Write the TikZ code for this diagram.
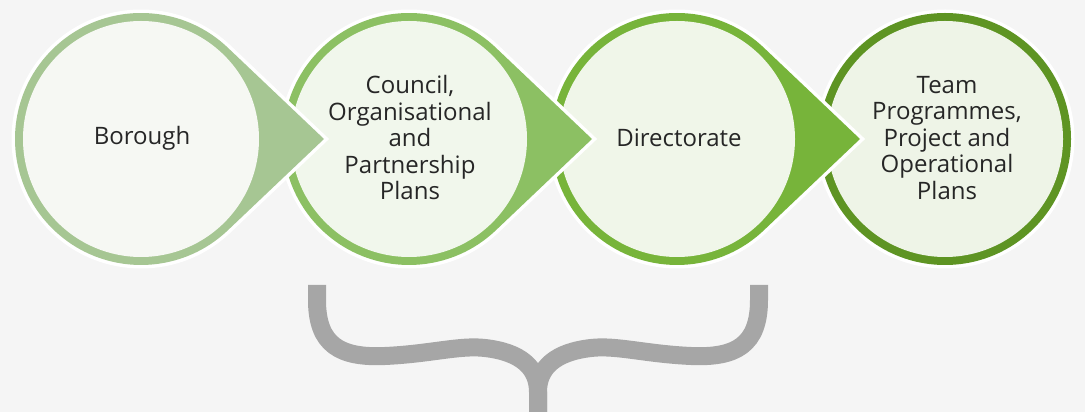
\documentclass[tikz,border=0pt]{standalone}
\usepackage{fontspec}
\setmainfont{Open Sans}
\definecolor{bgcol}{HTML}{F5F5F5}
\definecolor{ringA}{HTML}{A6C693}
\definecolor{ringB}{HTML}{8CC063}
\definecolor{ringC}{HTML}{77B43A}
\definecolor{ringD}{HTML}{5E9423}
\definecolor{innerA}{HTML}{F6F8F3}
\definecolor{innerB}{HTML}{F1F7EC}
\definecolor{innerC}{HTML}{F0F6E9}
\definecolor{innerD}{HTML}{EEF4E7}
\definecolor{bracecol}{HTML}{A6A6A6}
\definecolor{txtcol}{HTML}{262626}
\tikzset{
  drop/.style={fill=#1, preaction={draw=white, line width=7pt}},
  plantext/.style={text=txtcol, align=center, font=\fontsize{24}{26.5}\selectfont},
  brace/.style={draw=bracecol, line width=18pt},
}
\begin{document}
\begin{tikzpicture}[x=1pt, y=1pt]
    \fill[bgcol] (0,0) rectangle (1085,412);
    \useasboundingbox (0,0) rectangle (1085,412);
    % last circle, no tip
    \path[drop=ringD] (945,273) circle (126);
    \fill[innerD] (945,273) circle (118);
    % drops, right to left so each tip sits on the next circle
    \path[drop=ringC] (677,273) ++(46.5:126) arc[start angle=46.5, end angle=313.5, radius=126] -- (860,273) -- cycle;
    \fill[innerC] (677,273) circle (118);
    \path[drop=ringB] (409,273) ++(46.5:126) arc[start angle=46.5, end angle=313.5, radius=126] -- (592,273) -- cycle;
    \fill[innerB] (409,273) circle (118);
    \path[drop=ringA] (141,273) ++(46.5:126) arc[start angle=46.5, end angle=313.5, radius=126] -- (324,273) -- cycle;
    \fill[innerA] (141,273) circle (118);
    % texts
    \node[plantext] (borough) at (142,274) {Borough};
    \node[plantext] (council) at (410,274) {Council,\\Organisational\\and\\Partnership\\Plans};
    \node[plantext] (directorate) at (679,274) {Directorate};
    \node[plantext] (team) at (947,274) {Team\\Programmes,\\Project and\\Operational\\Plans};
    % brace
    \draw[brace] (317,127) -- (317,112) .. controls (317,67) and (340,54) .. (385,56)
        .. controls (430,58) and (460,67) .. (485,64) .. controls (520,60) and (538,45) .. (538,20) -- (538,-5);
    \draw[brace] (759,127) -- (759,112) .. controls (759,67) and (736,54) .. (691,56)
        .. controls (646,58) and (616,67) .. (591,64) .. controls (556,60) and (538,45) .. (538,20) -- (538,-5);
\end{tikzpicture}
\end{document}
